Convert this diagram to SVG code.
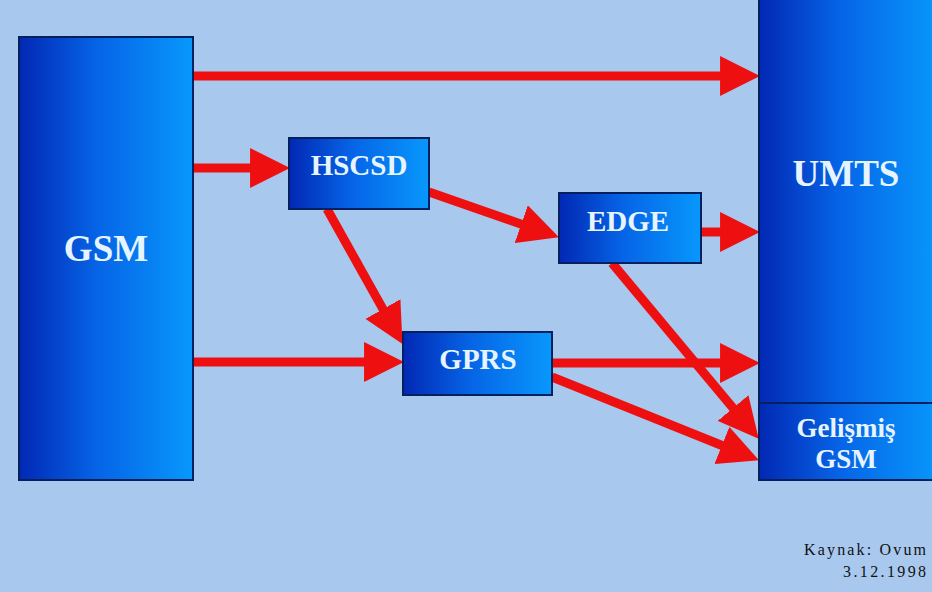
<svg xmlns="http://www.w3.org/2000/svg" width="932" height="592" viewBox="0 0 932 592">
<defs>
<linearGradient id="boxGrad" x1="0" y1="0" x2="1" y2="0">
<stop offset="0" stop-color="#0228b4"/>
<stop offset="0.45" stop-color="#0664e6"/>
<stop offset="1" stop-color="#0898fc"/>
</linearGradient>
<marker id="ah" markerUnits="userSpaceOnUse" markerWidth="40" markerHeight="40" viewBox="0 0 38 38" refX="18" refY="19" orient="auto">
<path d="M0,0 L38,19 L0,38 z" fill="#ee1010"/>
</marker>
<style>
.box{fill:url(#boxGrad);stroke:#06205e;stroke-width:2}
.lbl{font-family:"Liberation Serif","Times New Roman",serif;font-weight:bold;fill:#e6f4ff;text-anchor:middle}
.conn{stroke:#ee1010;stroke-width:9;fill:none;marker-end:url(#ah)}
.src{font-family:"Liberation Serif","Times New Roman",serif;fill:#111;font-size:16px;text-anchor:end}
</style>
</defs>
<rect x="0" y="0" width="932" height="592" fill="#a8c8ee"/>
<g id="connectors">
<line class="conn" x1="193" y1="76" x2="739" y2="76"/>
<line class="conn" x1="193" y1="168" x2="269" y2="168"/>
<line class="conn" x1="193" y1="362" x2="383" y2="362"/>
<line class="conn" x1="429" y1="192" x2="539.1" y2="230.4"/>
<line class="conn" x1="327" y1="209" x2="392.2" y2="325.6"/>
<line class="conn" x1="701" y1="232" x2="739" y2="232"/>
<line class="conn" x1="552" y1="363" x2="739" y2="363"/>
<line class="conn" x1="552" y1="377" x2="739.45" y2="452.5"/>
<line class="conn" x1="612" y1="263" x2="745.2" y2="422.6"/>
</g>
<g id="gsm">
<rect class="box" x="19" y="37" width="174" height="443"/>
<text class="lbl" x="106" y="261" font-size="37">GSM</text>
</g>
<g id="umts">
<rect class="box" x="759" y="-5" width="180" height="408"/>
<text class="lbl" x="846" y="186" font-size="37">UMTS</text>
</g>
<g id="gelismis-gsm">
<rect class="box" x="759" y="403" width="180" height="77"/>
<text class="lbl" x="846" y="437" font-size="27">Gelişmiş</text>
<text class="lbl" x="846" y="468" font-size="27">GSM</text>
</g>
<g id="hscsd">
<rect class="box" x="289" y="138" width="140" height="71"/>
<text class="lbl" x="359" y="175" font-size="29">HSCSD</text>
</g>
<g id="edge">
<rect class="box" x="559" y="193" width="142" height="70"/>
<text class="lbl" x="628" y="231" font-size="29">EDGE</text>
</g>
<g id="gprs">
<rect class="box" x="403" y="332" width="149" height="63"/>
<text class="lbl" x="478" y="369" font-size="29">GPRS</text>
</g>
<g id="source">
<text class="src" x="926" y="555" textLength="122" lengthAdjust="spacing">Kaynak: Ovum</text>
<text class="src" x="926" y="577" textLength="83" lengthAdjust="spacing">3.12.1998</text>
</g>
</svg>
